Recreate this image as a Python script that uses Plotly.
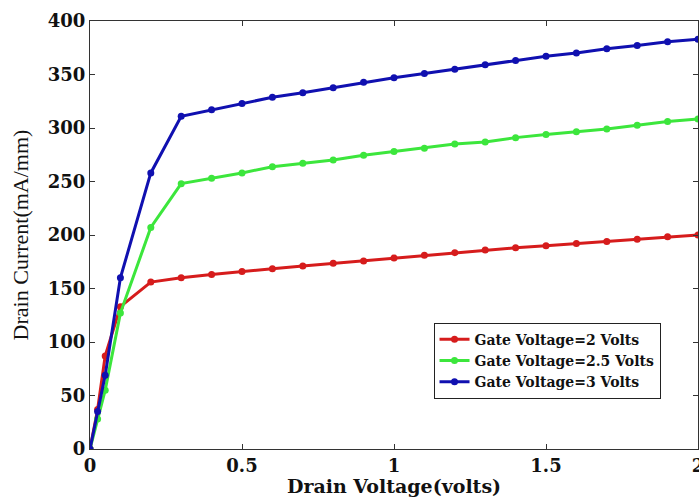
import plotly.graph_objects as go

drain_v = [0, 0.025, 0.05, 0.1, 0.2, 0.3, 0.4, 0.5, 0.6, 0.7, 0.8, 0.9, 1.0,
           1.1, 1.2, 1.3, 1.4, 1.5, 1.6, 1.7, 1.8, 1.9, 2.0]

current_vg2 = [0, 37, 87, 133, 156, 160, 163, 166, 168.5, 171, 173.5, 175.7, 178.5,
               181, 183.5, 186, 188, 190, 192, 194, 196, 198.4, 200]
current_vg25 = [0, 28, 55, 127, 207, 248, 253, 258, 263.8, 267, 270, 274.5, 278,
                281, 285, 287, 291, 294, 296.5, 299, 302.5, 306, 308.5]
current_vg3 = [0, 35, 69, 160, 258, 311, 317, 323, 328.7, 333, 337.7, 342.7, 347,
               351, 355, 359, 363, 367, 370, 374, 377, 380.5, 383]

series_names = ["Gate Voltage=2 Volts", "Gate Voltage=2.5 Volts", "Gate Voltage=3 Volts"]
series_colors = ["#d61c1c", "#3ce63c", "#1010b0"]
series_values = [current_vg2, current_vg25, current_vg3]

x_ticks = [0, 0.5, 1, 1.5, 2]
x_tick_labels = ["0", "0.5", "1", "1.5", "2"]
y_ticks = [0, 50, 100, 150, 200, 250, 300, 350, 400]

bold_font = "DejaVu Serif"
title_font = "Liberation Serif"

fig = go.Figure()
for name, color, vals in zip(series_names, series_colors, series_values):
    fig.add_trace(go.Scatter(
        x=drain_v, y=vals, name=f"<b>{name}</b>", mode="lines+markers",
        line=dict(color=color, width=3),
        marker=dict(color=color, size=7, symbol="circle"),
    ))

axis_common = dict(
    showline=True, linecolor="#333333", linewidth=1, mirror="allticks",
    ticks="inside", ticklen=5, tickcolor="#333333", showgrid=False,
    zeroline=False, ticklabeloverflow="allow", automargin=False,
    tickfont=dict(family=bold_font, size=18, color="#111111"),
)

fig.update_layout(
    width=699, height=497,
    margin=dict(l=90, r=1, t=21, b=48),
    paper_bgcolor="white", plot_bgcolor="white",
    font=dict(family=bold_font, color="#111111"),
    xaxis=dict(
        range=[0, 2], tickvals=x_ticks,
        ticktext=[f"<b>{t}</b>" for t in x_tick_labels],
        title=dict(text="<b>Drain Voltage(volts)</b>",
                   font=dict(family=bold_font, size=19, color="#111111"), standoff=4),
        **axis_common,
    ),
    yaxis=dict(
        range=[0, 400], tickvals=y_ticks, ticktext=[f"<b>{t}</b>" for t in y_ticks],
        title=dict(text="Drain Current(mA/mm)",
                   font=dict(family=title_font, size=22, color="#111111"), standoff=13),
        **axis_common,
    ),
    legend=dict(
        x=0.565, y=0.295, xanchor="left", yanchor="top",
        bgcolor="white", bordercolor="#222222", borderwidth=1,
        font=dict(family=bold_font, size=14, color="#111111"),
        tracegroupgap=0,
    ),
    showlegend=True,
)

fig.write_html("out.html")
